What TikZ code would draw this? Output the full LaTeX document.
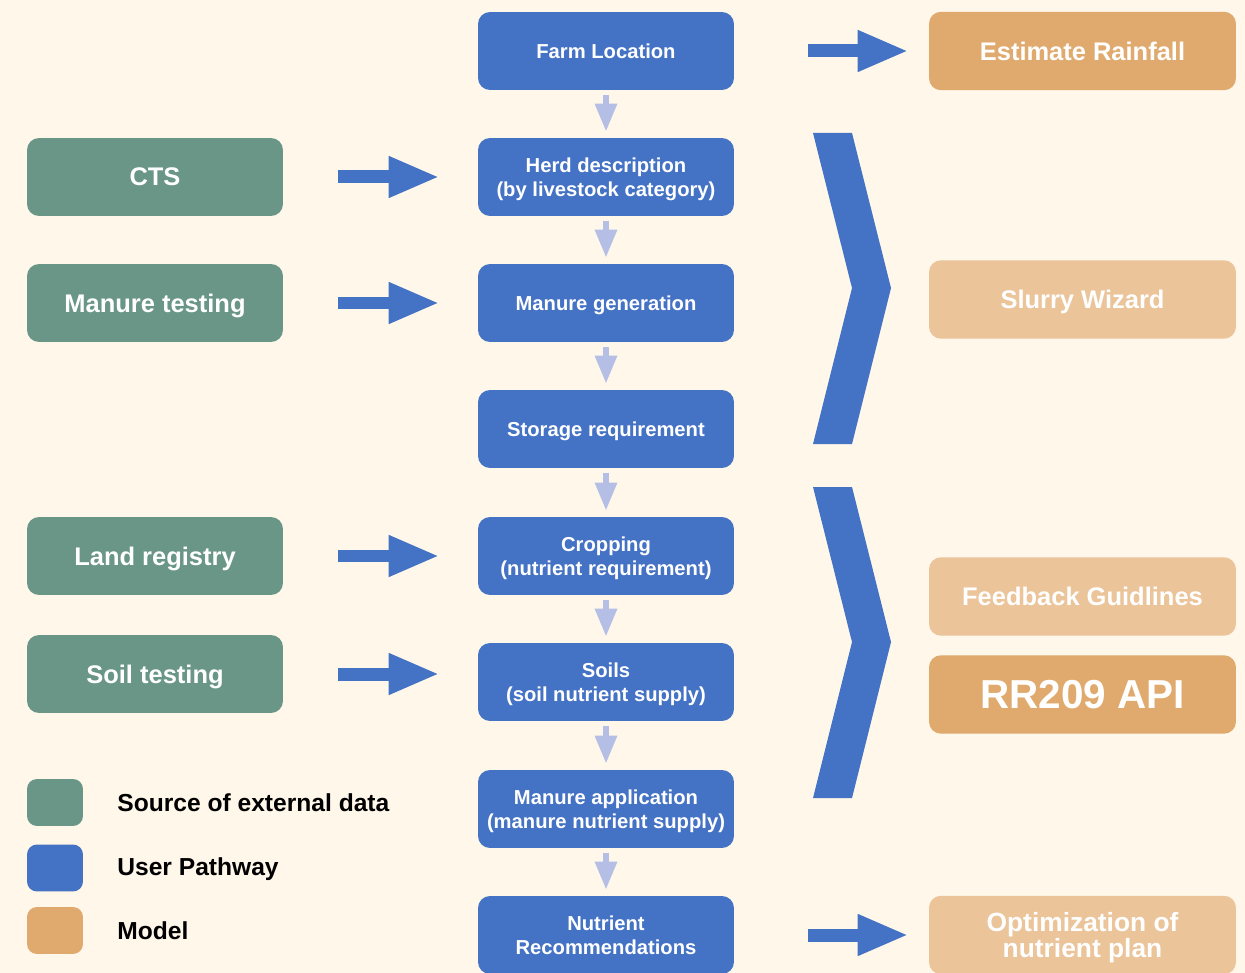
\documentclass[tikz,border=0pt]{standalone}
\usepackage{fontspec}
\setmainfont{Liberation Sans}
\usetikzlibrary{arrows.meta,calc}
\definecolor{bg}{HTML}{FFF7EA}
\definecolor{ublue}{HTML}{4472C4}
\definecolor{sgreen}{HTML}{6A9688}
\definecolor{mdark}{HTML}{E0AA6E}
\definecolor{mlight}{HTML}{EBC49A}
\definecolor{flow}{HTML}{B5BFE6}
\tikzset{
  boxbase/.style={rectangle, rounded corners=0.24cm, inner sep=0pt, align=center, text=white, text depth=0pt},
  ubox/.style={boxbase, fill=ublue, minimum width=5.12cm, minimum height=1.56cm, font=\bfseries\fontsize{11.5}{13.6}\selectfont},
  gbox/.style={boxbase, fill=sgreen, minimum width=5.12cm, minimum height=1.56cm, font=\bfseries\fontsize{14.5}{17}\selectfont},
  obox/.style={boxbase, minimum width=6.14cm, minimum height=1.57cm, font=\bfseries\fontsize{14.5}{17}\selectfont},
  legsq/.style={rectangle, rounded corners=0.2cm, minimum width=1.12cm, minimum height=0.94cm, inner sep=0pt},
  legtxt/.style={anchor=west, inner sep=0pt, text depth=0pt, font=\bfseries\fontsize{14}{17}\selectfont, text=black},
  flowarrow/.style={draw=flow, line width=0.12cm, -{Triangle[length=0.56cm,width=0.42cm]}, shorten <=0.1cm, shorten >=0.12cm},
  bigarrow/.style={draw=ublue, line width=0.26cm, -{Triangle[length=1.02cm,width=0.76cm]}},
  chev/.style={fill=ublue}
}
\begin{document}
\begin{tikzpicture}[x=0.02cm,y=-0.02cm]
\fill[bg] (0,0) rectangle (1245,973);
\useasboundingbox (0,0) rectangle (1245,973);

% centre column
\node[ubox] (farm) at (606,51) {Farm Location};
\node[ubox] (herd) at (606,177) {Herd description\\(by livestock category)};
\node[ubox] (mgen) at (606,303) {Manure generation};
\node[ubox] (stor) at (606,429) {Storage requirement};
\node[ubox] (crop) at (606,556) {Cropping\\(nutrient requirement)};
\node[ubox] (soil) at (606,682) {Soils\\(soil nutrient supply)};
\node[ubox] (mapp) at (606,809) {Manure application\\(manure nutrient supply)};
\node[ubox] (nrec) at (606,935) {Nutrient\\Recommendations};

% sources
\node[gbox] (cts) at (155,177) {CTS};
\node[gbox] (mtest) at (155,303) {Manure testing};
\node[gbox] (land) at (155,556) {Land registry};
\node[gbox] (stest) at (155,674) {Soil testing};

% models
\node[obox, fill=mdark] (rain) at (1082.5,51) {Estimate Rainfall};
\node[obox, fill=mlight] (slurry) at (1082.5,299.5) {Slurry Wizard};
\node[obox, fill=mlight] (feed) at (1082.5,596.5) {Feedback Guidlines};
\node[obox, fill=mdark, font=\bfseries\fontsize{23}{26}\selectfont] (rr) at (1082.5,694.5) {RR209 API};
\node[obox, fill=mlight, font=\bfseries\fontsize{15}{13.6}\selectfont] (opt) at (1082.5,935) {Optimization of\\nutrient plan};

% flow arrows
\foreach \a/\b in {farm/herd, herd/mgen, mgen/stor, stor/crop, crop/soil, soil/mapp, mapp/nrec}
  \draw[flowarrow] (\a.south) -- (\b.north);

% big arrows
\draw[bigarrow] ([xshift=1.1cm]cts.east) -- ([xshift=-0.76cm]herd.west);
\draw[bigarrow] ([xshift=1.1cm]mtest.east) -- ([xshift=-0.76cm]mgen.west);
\draw[bigarrow] ([xshift=1.1cm]land.east) -- ([xshift=-0.76cm]crop.west);
\draw[bigarrow] ([xshift=1.1cm]stest.east) -- ([xshift=-0.76cm]stest.east-|crop.west);
\draw[bigarrow] ([xshift=1.48cm]farm.east) -- ([xshift=-0.40cm]rain.west);
\draw[bigarrow] ([xshift=1.48cm]nrec.east) -- ([xshift=-0.40cm]opt.west);

% chevrons
\fill[chev] (813,133) -- (852,133) -- (891,288) -- (852,444) -- (813,444) -- (852,288) -- cycle;
\fill[chev] (813,487) -- (852,487) -- (891,642) -- (852,798) -- (813,798) -- (852,642) -- cycle;

% legend
\node[legsq, fill=sgreen] (lg1) at (55,802.5) {};
\node[legsq, fill=ublue] (lg2) at (55,868) {};
\node[legsq, fill=mdark] (lg3) at (55,930.5) {};
\node[legtxt] (lt1) at (117,803) {Source of external data};
\node[legtxt] (lt2) at (117,867) {User Pathway};
\node[legtxt] (lt3) at (117,931) {Model};
\end{tikzpicture}
\end{document}
